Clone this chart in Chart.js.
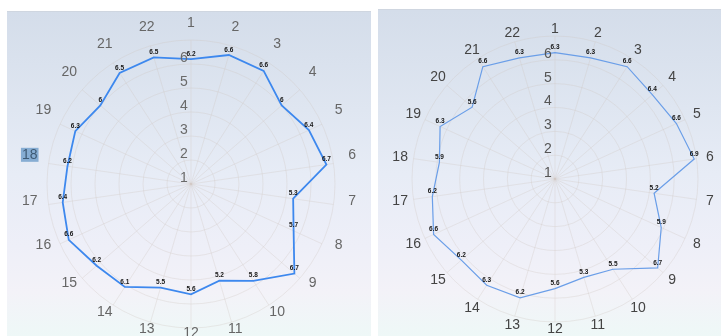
<!DOCTYPE html>
<html>
<head>
<meta charset="utf-8">
<script src="https://cdn.jsdelivr.net/npm/chart.js@4.4.1/dist/chart.umd.min.js"></script>
<style>
    html, body { margin: 0; padding: 0; background: #fff; overflow: hidden; width: 721px; height: 336px; }
    .panel {
        position: absolute;
        background: linear-gradient(#d4ddea 0%, #dfe6f1 30%, #e7ecf6 50%, #eeeff8 72%, #f3f2f8 86%, #eef8f7 100%);
        border-top: 1px solid #cfd6e0;
        overflow: hidden;
    }
    #leftPanel { left: 7px; top: 11px; width: 364px; height: 325px; }
    #rightPanel { left: 378px; top: 9px; width: 343px; height: 327px; }
    .box { position: absolute; left: 0; top: 0; height: 340px; }
    #leftBox { width: 364px; }
    #rightBox { width: 343px; }
</style>
</head>
<body>
<div class="panel" id="leftPanel"><div class="box" id="leftBox"><canvas id="radarLeft"></canvas></div></div>
<div class="panel" id="rightPanel"><div class="box" id="rightBox"><canvas id="radarRight"></canvas></div></div>
<script>
var categories = ['1', '2', '3', '4', '5', '6', '7', '8', '9', '10', '11',
    '12', '13', '14', '15', '16', '17', '18', '19', '20', '21', '22'];
var valuesLeft = [6.2, 6.6, 6.6, 6, 6.4, 6.7, 5.3, 5.7, 6.7, 5.8, 5.2,
    5.6, 5.5, 6.1, 6.2, 6.6, 6.4, 6.2, 6.3, 6, 6.5, 6.5];
var valuesRight = [6.3, 6.3, 6.6, 6.4, 6.6, 6.9, 5.2, 5.9, 6.7, 5.5, 5.3,
    5.6, 6.2, 6.3, 6.2, 6.6, 6.2, 5.9, 6.3, 5.6, 6.6, 6.3];
var tickValues = [1, 2, 3, 4, 5, 6];
var scaleMax = 7;

var textFamily = 'Arial, "Liberation Sans", sans-serif';

// tick numbers, category labels and small value labels, placed from the r scale
var radarText = {
    id: 'radarText',
    afterDatasetsDraw: function (chart, args, o) {
        var ctx = chart.ctx;
        var r = chart.scales.r;
        var meta = chart.getDatasetMeta(0);
        var data = chart.data.datasets[0].data;
        ctx.save();
        ctx.font = '14px ' + textFamily;
        ctx.fillStyle = o.tickColor;
        ctx.textAlign = 'center';
        ctx.textBaseline = 'middle';
        tickValues.forEach(function (v) {
            var d = r.getDistanceFromCenterForValue(v);
            ctx.fillText(String(v), r.xCenter - 7, r.yCenter - d - 6);
        });

        chart.data.labels.forEach(function (lab, i) {
            var a = (2 * Math.PI * i) / chart.data.labels.length;
            var dist = r.drawingArea + o.labelGap + o.labelSide * Math.abs(Math.sin(a));
            var p = r.getPointPosition(i, dist);
            var y = p.y + o.labelShift;
            if (i === o.marked) {
                var w = ctx.measureText(lab).width;
                ctx.fillStyle = 'rgba(118,162,204,0.85)';
                ctx.fillRect(p.x - w / 2 - 1, y - 7, w + 2, 14);
                ctx.fillStyle = '#3e5a75';
            } else {
                ctx.fillStyle = o.labelColor;
            }
            ctx.fillText(lab, p.x, y);
        });

        ctx.font = 'bold 6.5px ' + textFamily;
        ctx.fillStyle = '#151515';
        ctx.textBaseline = 'bottom';
        meta.data.forEach(function (pt, i) {
            ctx.fillText(String(data[i]), pt.x, pt.y - 2);
        });
        ctx.restore();
    }
};

function drawRadar(id, values, lineColor, lineWidth, pad, textOpts) {
    var ctx = document.getElementById(id).getContext('2d');
    return new Chart(ctx, {
        type: 'radar',
        data: {
            labels: categories,
            datasets: [{
                data: values,
                borderColor: lineColor,
                borderWidth: lineWidth,
                backgroundColor: 'rgba(0,0,0,0)',
                fill: false,
                pointRadius: 0,
                pointHoverRadius: 0,
                tension: 0
            }]
        },
        options: {
            responsive: true,
            maintainAspectRatio: false,
            animation: false,
            events: [],
            layout: { padding: pad },
            plugins: {
                legend: { display: false },
                tooltip: { enabled: false },
                radarText: textOpts
            },
            scales: {
                r: {
                    min: tickValues[0],
                    max: scaleMax,
                    beginAtZero: false,
                    grid: { circular: true, color: 'rgba(205,195,190,0.3)' },
                    angleLines: { color: 'rgba(205,195,190,0.3)' },
                    ticks: { stepSize: 1, display: false },
                    pointLabels: { display: false }
                }
            }
        },
        plugins: [radarText]
    });
}

drawRadar('radarLeft', valuesLeft, '#3d88ee', 1.8,
    { left: 40, right: 36, top: 28, bottom: 24 },
    { tickColor: '#6a6a6a', labelColor: '#666', labelGap: 11, labelSide: 8, labelShift: -6, marked: 17 });
drawRadar('radarRight', valuesRight, '#6a9ee8', 1.2,
    { left: 34, right: 23, top: 26, bottom: 28 },
    { tickColor: '#555', labelColor: '#444', labelGap: 7, labelSide: 6.5, labelShift: 0, marked: -1 });
</script>
</body>
</html>
